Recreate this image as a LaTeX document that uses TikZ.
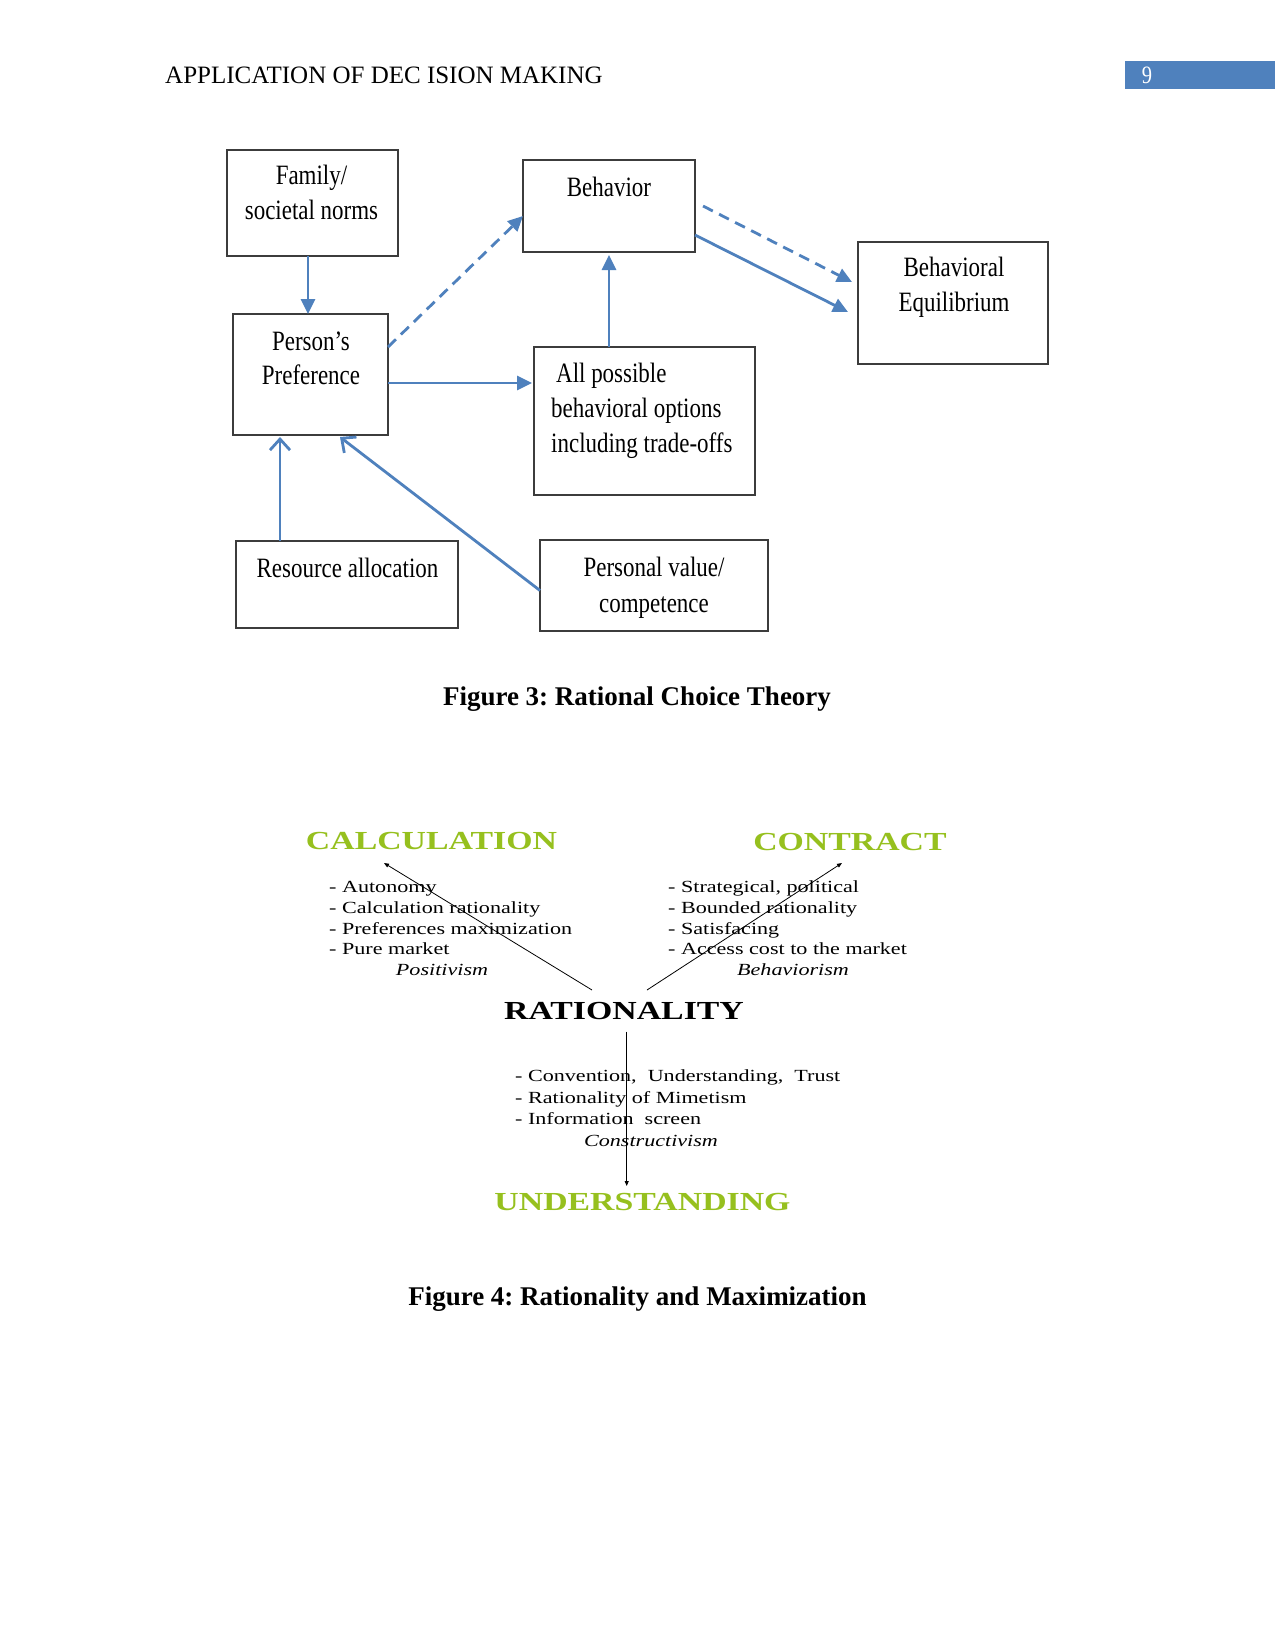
\documentclass[tikz,border=0pt]{standalone}
\usepackage{fontspec}
\setmainfont{Liberation Serif}
\newfontfamily\boxfont[FakeStretch=0.82]{Liberation Serif}
\newfontfamily\wideserif[FakeStretch=1.3]{Liberation Serif}
\usetikzlibrary{arrows.meta}
\definecolor{arrowblue}{RGB}{79,129,189}
\definecolor{headblue}{RGB}{79,129,189}
\definecolor{limegreen}{RGB}{150,192,30}
\definecolor{boxline}{RGB}{60,60,60}
\frenchspacing
\begin{document}
\begin{tikzpicture}[x=1pt,y=-1pt,
  box/.style={draw=boxline, line width=1.8pt, inner sep=0pt, outer sep=0pt},
  lbl/.style={anchor=base, inner sep=0pt, font=\boxfont\fontsize{28}{34}\selectfont},
  lbll/.style={lbl, anchor=base west},
  conn/.style={draw=arrowblue, line width=2.8pt, -{Triangle[length=15pt,width=14pt]}},
  dconn/.style={conn, dash pattern=on 11pt off 7pt},
  oconn/.style={draw=arrowblue, line width=2.8pt, -{Straight Barb[length=11pt,width=20pt]}},
  headtxt/.style={anchor=base, inner sep=0pt, text=limegreen, font=\wideserif\bfseries\fontsize{26}{30}\selectfont},
  itemtxt/.style={anchor=base west, inner sep=0pt, font=\wideserif\fontsize{17}{20}\selectfont},
  subtxt/.style={anchor=base, inner sep=0pt, font=\wideserif\itshape\fontsize{17}{20}\selectfont},
  thinarrow/.style={draw=black, line width=0.8pt, -{Triangle[length=5pt,width=4pt]}},
  figcaption/.style={anchor=base, inner sep=0pt, font=\bfseries\fontsize{27}{32}\selectfont}
]
\useasboundingbox (0,0) rectangle (1275,1650);
\fill[white] (0,0) rectangle (1275,1650);

% header
\node[anchor=base west, inner sep=0pt, font=\fontsize{25}{30}\selectfont] (hdr) at (165,83) {APPLICATION OF DEC ISION MAKING};
\fill[headblue] (1125,61) rectangle (1275,89);
\node[anchor=base, inner sep=0pt, text=white, font=\boxfont\fontsize{25}{30}\selectfont] (pgnum) at (1147,83) {9};

% ---------- Figure 3 ----------
\node[box, minimum width=171pt, minimum height=106pt] (fam) at (312.5,203) {};
\node[box, minimum width=172pt, minimum height=92pt] (beh) at (609,206) {};
\node[box, minimum width=190pt, minimum height=122pt] (eq) at (953,303) {};
\node[box, minimum width=155pt, minimum height=121pt] (pp) at (310.5,374.5) {};
\node[box, minimum width=221pt, minimum height=148pt] (allp) at (644.5,421) {};
\node[box, minimum width=222pt, minimum height=87pt] (res) at (347,584.5) {};
\node[box, minimum width=228pt, minimum height=91pt] (pv) at (654,585.5) {};

\node[lbl] (famA) at (311.5,184) {Family/};
\node[lbl] (famB) at (311.5,219) {societal norms};
\node[lbl] (behA) at (609,196) {Behavior};
\node[lbl] (eqA) at (954,276) {Behavioral};
\node[lbl] (eqB) at (954,311) {Equilibrium};
\node[lbl] (ppA) at (311,350) {Person’s};
\node[lbl] (ppB) at (311,384) {Preference};
\node[lbll] (allA) at (556,382) {All possible};
\node[lbll] (allB) at (551,417) {behavioral options};
\node[lbll] (allC) at (551,452) {including trade-offs};
\node[lbl] (resA) at (347.5,577) {Resource allocation};
\node[lbl] (pvA) at (654,576) {Personal value/};
\node[lbl] (pvB) at (654,612) {competence};

\draw[conn] ([xshift=-4.5pt]fam.south) -- ([xshift=-2.5pt]pp.north);
\draw[dconn] ([yshift=27.5pt]pp.east) -- ([yshift=-10pt]beh.west);
\draw[conn] ([yshift=-8.5pt]pp.east) -- ([xshift=-2pt,yshift=38pt]allp.west);
\draw[conn] ([xshift=-35.5pt]allp.north) -- ([yshift=-3pt]beh.south);
\draw[dconn] ([xshift=8pt]beh.east) -- ([xshift=-6pt,yshift=21pt]eq.west);
\draw[conn] ([yshift=-29pt]beh.east) -- ([xshift=-10pt,yshift=-9pt]eq.west);
\draw[oconn] ([xshift=-67pt]res.north) -- ([xshift=-30.5pt,yshift=-2pt]pp.south);
\draw[oconn] ([yshift=-5pt]pv.west) -- ([xshift=29.5pt,yshift=-2pt]pp.south);

\node[figcaption] (cap3) at (637,705) {Figure 3: Rational Choice Theory};

% ---------- Figure 4 ----------
\node[headtxt] (calc) at (431.5,849) {CALCULATION};
\node[headtxt] (con) at (850,850) {CONTRACT};
\node[headtxt, text=black] (rat) at (624,1019) {RATIONALITY};
\node[headtxt] (und) at (642.5,1210) {UNDERSTANDING};

\node[itemtxt] (c1) at (329,892.7) {- Autonomy};
\node[itemtxt] (c2) at (329,913.4) {- Calculation rationality};
\node[itemtxt] (c3) at (329,934.1) {- Preferences maximization};
\node[itemtxt] (c4) at (329,954.8) {- Pure market};
\node[subtxt] (c5) at (442,975) {Positivism};

\node[itemtxt] (k1) at (668,892.7) {- Strategical, political};
\node[itemtxt] (k2) at (668,913.4) {- Bounded rationality};
\node[itemtxt] (k3) at (668,934.1) {- Satisfacing};
\node[itemtxt] (k4) at (668,954.8) {- Access cost to the market};
\node[subtxt] (k5) at (793,975) {Behaviorism};

\node[itemtxt] (u1) at (515,1081.7) {- Convention,\ \ Understanding,\ \ Trust};
\node[itemtxt] (u2) at (515,1103) {- Rationality\ of Mimetism};
\node[itemtxt] (u3) at (515,1124.5) {- Information\ \ screen};
\node[subtxt] (u4) at (651,1146) {Constructivism};

\draw[thinarrow] ([xshift=-32pt,yshift=29pt]rat.base) -- ([xshift=-47.5pt,yshift=-14pt]calc.base);
\draw[thinarrow] ([xshift=23pt,yshift=29pt]rat.base) -- ([xshift=-8pt,yshift=-13pt]con.base);
\draw[thinarrow] ([xshift=2.7pt,yshift=-12.7pt]rat.base) -- ([xshift=-15.8pt,yshift=24pt]und.base);

\node[figcaption] (cap4) at (637.5,1305) {Figure 4: Rationality and Maximization};
\end{tikzpicture}
\end{document}
